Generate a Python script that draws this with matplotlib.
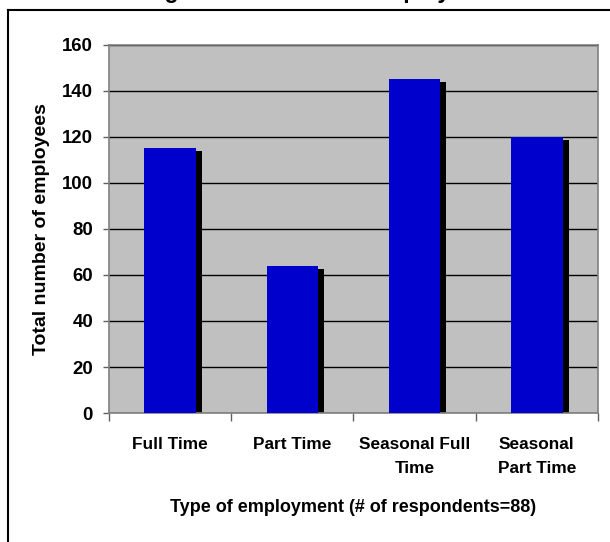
import matplotlib
matplotlib.use("Agg")
import matplotlib.pyplot as plt
from matplotlib.lines import Line2D

# Data
categories = ["Full Time", "Part Time", "Seasonal Full\nTime", "Seasonal\nPart Time"]
employees = [115, 64, 145, 120]
y_ticks = [0, 20, 40, 60, 80, 100, 120, 140, 160]

plt.rcParams["font.family"] = ["Liberation Sans", "DejaVu Sans"]
plt.rcParams["font.weight"] = "bold"

fig = plt.figure(figsize=(6.1, 5.42), dpi=100)
ax = fig.add_axes([0.1787, 0.238, 0.8016, 0.679])

x = list(range(len(categories)))
bar_w = 0.42

# shadow bars (offset right and a little down)
shadow_x = [i + 0.05 for i in x]
shadow_h = [v - 1.3 for v in employees]
ax.bar(shadow_x, shadow_h, width=bar_w, color="black", zorder=2)
ax.bar(x, employees, width=bar_w, color="#0000CC", zorder=3)

ax.set_facecolor("#C0C0C0")
ax.set_xlim(-0.5, len(categories) - 0.5)
ax.set_ylim(0, 160)
ax.set_yticks(y_ticks)
ax.yaxis.grid(True, color="black", linewidth=1.0, zorder=1)
ax.set_axisbelow(True)

for side in ["top", "right", "left", "bottom"]:
    ax.spines[side].set_color("#808080")
    ax.spines[side].set_linewidth(1.2)

ax.tick_params(axis="y", length=4.5, width=1, color="#606060", pad=7, labelsize=13.4)
ax.set_xticks(x)
ax.set_xticklabels(categories, linespacing=1.8)
ax.tick_params(axis="x", which="major", length=0, pad=17, labelsize=12.4)
ax.set_xticks([i - 0.5 for i in range(len(categories) + 1)], minor=True)
ax.tick_params(axis="x", which="minor", length=6, width=1, color="#606060")

fig.text(42 / 610, 0.5 * (0.238 + 0.917), "Total number of employees",
         rotation=90, ha="center", va="center", fontsize=14, weight="bold")
fig.text(353 / 610, 1 - 507 / 542, "Type of employment (# of respondents=88)",
         ha="center", va="center", fontsize=13, weight="bold")

# title sits mostly above the visible area
fig.text(0.484, 1 + 2 / 542, "Average total number of employees",
         ha="center", va="baseline", fontsize=16.5, weight="bold")

# outer chart frame, clipped at right and bottom
fx = 8 / 610
fy = 1 - 10 / 542
fig.add_artist(Line2D([fx, 1.0], [fy, fy], color="black", linewidth=1.5))
fig.add_artist(Line2D([fx, fx], [fy, 0.0], color="black", linewidth=1.5))

fig.savefig("out.png", dpi=100)
